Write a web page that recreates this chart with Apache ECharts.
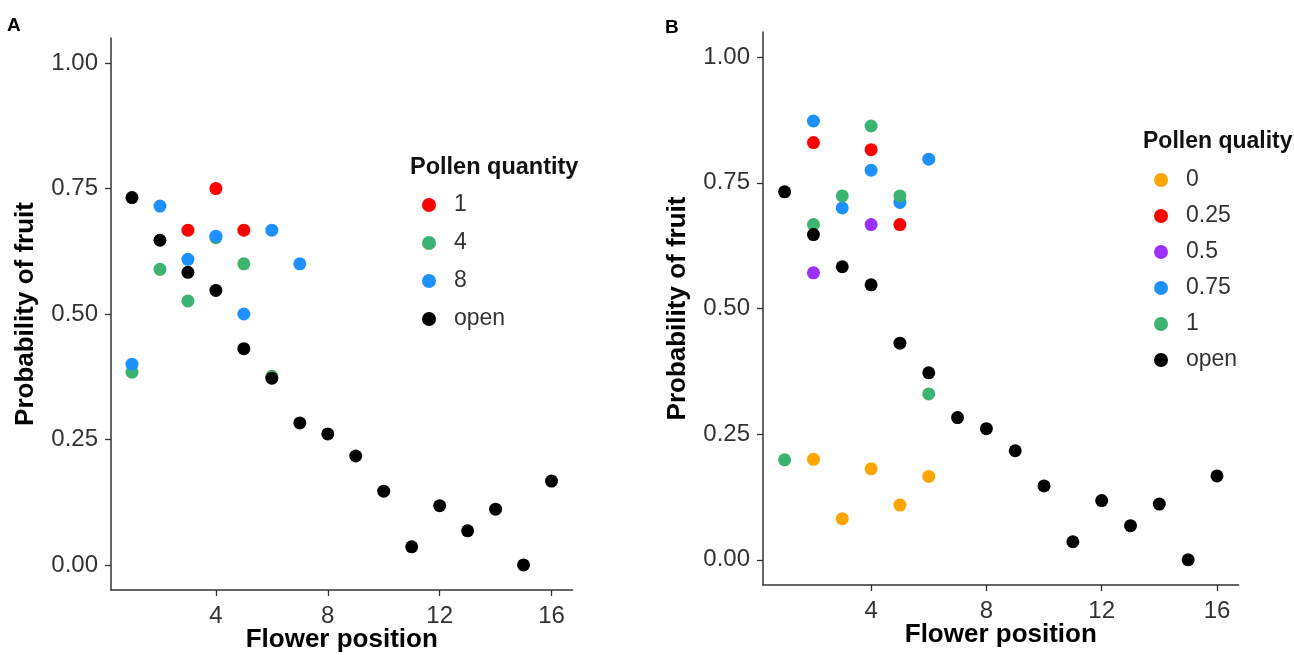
<!DOCTYPE html>
<html>
<head>
<meta charset="utf-8">
<script src="https://cdn.jsdelivr.net/npm/echarts@6/dist/echarts.min.js"></script>
<style>
html,body{margin:0;padding:0;background:#fff;}
#chart{width:1294px;height:655px;}
</style>
</head>
<body>
<div id="chart"></div>
<script>
// ---- Data ----
const flowerPos = [1,2,3,4,5,6,7,8,9,10,11,12,13,14,15,16];
const openProb = [0.732,0.647,0.583,0.547,0.431,0.372,0.283,0.261,0.217,0.147,0.036,0.118,0.068,0.111,0.000,0.167];

// Panel A: pollen quantity
const qty1X = [3,4,5];
const qty1Y = [0.667,0.750,0.667];
const qty4X = [1,2,3,4,5,6];
const qty4Y = [0.384,0.589,0.526,0.652,0.600,0.376];
const qty8X = [1,2,3,4,5,6,7];
const qty8Y = [0.400,0.715,0.609,0.655,0.500,0.667,0.600];

// Panel B: pollen quality
const qual0X = [2,3,4,5,6];
const qual0Y = [0.200,0.082,0.181,0.109,0.166];
const qual025X = [2,4,5];
const qual025Y = [0.830,0.816,0.667];
const qual05X = [2,4];
const qual05Y = [0.571,0.667];
const qual075X = [2,3,4,5,6];
const qual075Y = [0.873,0.700,0.775,0.711,0.797];
const qual1X = [1,2,3,4,5,6];
const qual1Y = [0.199,0.667,0.724,0.863,0.724,0.330];

const xTicks = [4,8,12,16];
const yTicks = [0,0.25,0.5,0.75,1];

// ---- Build ----
function pts(xs, ys){ return xs.map((x,i)=>[x, ys[i]]); }
const C = {orange:'#FFA500', red:'#FF0000', purple:'#9B30FF', blue:'#1E90FF', green:'#3CB371', black:'#000000'};

function sc(name, idx, data, color){
  return {type:'scatter', name:name, xAxisIndex:idx, yAxisIndex:idx, data:data,
    symbolSize:13, itemStyle:{color:color, opacity:1}, emphasis:{disabled:true}};
}

const series = [
  sc('A:1',0,pts(qty1X,qty1Y),C.red),
  sc('A:4',0,pts(qty4X,qty4Y),C.green),
  sc('A:8',0,pts(qty8X,qty8Y),C.blue),
  sc('A:open',0,pts(flowerPos,openProb),C.black),
  sc('B:0',1,pts(qual0X,qual0Y),C.orange),
  sc('B:0.25',1,pts(qual025X,qual025Y),C.red),
  sc('B:0.5',1,pts(qual05X,qual05Y),C.purple),
  sc('B:0.75',1,pts(qual075X,qual075Y),C.blue),
  sc('B:1',1,pts(qual1X,qual1Y),C.green),
  sc('B:open',1,pts(flowerPos,openProb),C.black)
];

const FONT = '"Liberation Sans", Arial, sans-serif';
const axisCol = '#333333';

function xAx(idx){
  return {gridIndex:idx, type:'value', min:0.25, max:16.75,
    name:'Flower position', nameLocation:'middle', nameGap:37, nameMoveOverlap:false,
    nameTextStyle:{fontFamily:FONT, fontSize:26, fontWeight:'bold', color:'#000', verticalAlign:'top'},
    axisLine:{show:true, onZero:false, lineStyle:{color:axisCol, width:1.5}},
    axisTick:{show:true, length:6, customValues:xTicks, lineStyle:{color:axisCol, width:1.3}},
    axisLabel:{customValues:xTicks, margin:14, fontFamily:FONT, fontSize:24, color:'#333'},
    splitLine:{show:false}};
}
function yAx(idx){
  return {gridIndex:idx, type:'value', min:-0.05, max:1.05,
    name:'Probability of fruit', nameLocation:'middle', nameGap:72, nameMoveOverlap:false,
    nameTextStyle:{fontFamily:FONT, fontSize:26, fontWeight:'bold', color:'#000'},
    axisLine:{show:true, onZero:false, lineStyle:{color:axisCol, width:1.5}},
    axisTick:{show:true, length:6, customValues:yTicks, lineStyle:{color:axisCol, width:1.3}},
    axisLabel:{customValues:yTicks, margin:13, fontFamily:FONT, fontSize:24, color:'#333',
      formatter:v=>Number(v).toFixed(2)},
    splitLine:{show:false}};
}

const legendCommon = {orient:'vertical', icon:'circle', itemWidth:40, itemHeight:14,
  padding:0, selectedMode:false,
  textStyle:{fontFamily:FONT, fontSize:23, color:'#333', lineHeight:24},
  formatter:n=>n.slice(2)};

const option = {
  animation:false,
  backgroundColor:'#ffffff',
  title:[
    {text:'A', left:7, top:16, padding:0, textStyle:{fontFamily:FONT, fontSize:19, fontWeight:'bold', color:'#000'}},
    {text:'B', left:665, top:18, padding:0, textStyle:{fontFamily:FONT, fontSize:19, fontWeight:'bold', color:'#000'}},
    {text:'Pollen quantity', left:410, top:156, padding:0, textStyle:{fontFamily:FONT, fontSize:23.5, fontWeight:'bold', color:'#111'}},
    {text:'Pollen quality', left:1143, top:130, padding:0, textStyle:{fontFamily:FONT, fontSize:23, fontWeight:'bold', color:'#111'}}
  ],
  grid:[
    {left:111, top:38, width:461.5, bottom:65, containLabel:false, outerBoundsMode:'none'},
    {left:763, top:32, width:475.6, bottom:70, containLabel:false, outerBoundsMode:'none'}
  ],
  xAxis:[xAx(0), xAx(1)],
  yAxis:[yAx(0), yAx(1)],
  legend:[
    Object.assign({}, legendCommon, {left:422, top:193, itemGap:14,
      data:['A:1','A:4','A:8','A:open']}),
    Object.assign({}, legendCommon, {left:1154, top:168, itemGap:12,
      data:['B:0','B:0.25','B:0.5','B:0.75','B:1','B:open']})
  ],
  series:series
};

const chart = echarts.init(document.getElementById('chart'), null, {renderer:'canvas'});
chart.setOption(option);
</script>
</body>
</html>
